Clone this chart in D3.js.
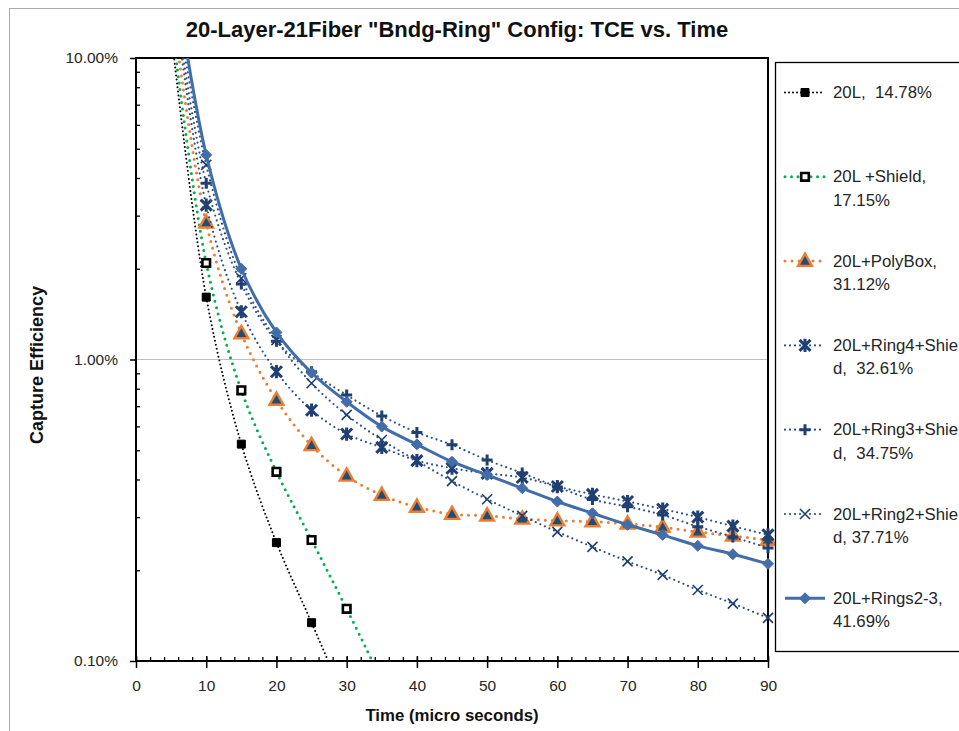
<!DOCTYPE html>
<html>
<head>
<meta charset="utf-8">
<script src="https://cdn.jsdelivr.net/npm/d3@7"></script>
<style>
  body { margin: 0; background: #fff; }
  svg { display: block; font-family: "Liberation Sans", Arial, sans-serif; }
  text { white-space: pre; }
</style>
</head>
<body>
<svg id="chart" width="959" height="731"></svg>
<script>
// time points (micro seconds)
const times = [5, 10, 15, 20, 25, 30, 35, 40, 45, 50, 55, 60, 65, 70, 75, 80, 85, 90];

// capture efficiency in percent
const tce20L = [12.2, 1.61, 0.524, 0.247, 0.134, 0.072];
const tceShield = [13.5, 2.09, 0.79, 0.424, 0.252, 0.149, 0.086];
const tcePolyBox = [15.6, 2.84, 1.22, 0.734, 0.519, 0.411, 0.355, 0.324, 0.307, 0.303, 0.296, 0.292, 0.290, 0.285, 0.278, 0.268, 0.260, 0.252];
const tceRing4 = [18.8, 3.25, 1.44, 0.911, 0.679, 0.566, 0.511, 0.462, 0.436, 0.419, 0.406, 0.379, 0.357, 0.338, 0.319, 0.300, 0.280, 0.262];
const tceRing3 = [18.9, 3.84, 1.78, 1.15, 0.91, 0.762, 0.650, 0.573, 0.521, 0.464, 0.420, 0.378, 0.343, 0.325, 0.305, 0.279, 0.258, 0.237];
const tceRing2 = [19.0, 4.42, 1.86, 1.16, 0.834, 0.655, 0.541, 0.461, 0.395, 0.344, 0.303, 0.268, 0.239, 0.214, 0.193, 0.172, 0.155, 0.139];
const tceRings23 = [22.3, 4.77, 2.00, 1.23, 0.904, 0.724, 0.599, 0.523, 0.458, 0.414, 0.374, 0.338, 0.309, 0.283, 0.262, 0.241, 0.226, 0.210];

// legend text as it shows in the picture (long names wrap, right part runs off the frame)
const legendLabels = [
  ['20L,  14.78%'],
  ['20L +Shield,', '17.15%'],
  ['20L+PolyBox,', '31.12%'],
  ['20L+Ring4+Shie', 'd,  32.61%'],
  ['20L+Ring3+Shie', 'd,  34.75%'],
  ['20L+Ring2+Shie', 'd, 37.71%'],
  ['20L+Rings2-3,', '41.69%']
];

const xTicks = [0, 10, 20, 30, 40, 50, 60, 70, 80, 90];
const yTicks = [0.1, 1, 10];

const title = '20-Layer-21Fiber "Bndg-Ring" Config: TCE vs. Time';
const xTitle = 'Time (micro seconds)';
const yTitle = 'Capture Efficiency';

// looks of each series, same order as the data
const seriesValues = [tce20L, tceShield, tcePolyBox, tceRing4, tceRing3, tceRing2, tceRings23];
const styles = [
  { line: '#000', width: 2, dash: '0 4', marker: 'square', fill: '#000', stroke: '#000', msw: 1, r: 4 },
  { line: '#00B050', width: 3, dash: '0 6.5', marker: 'square', fill: '#fff', stroke: '#000', msw: 2.6, r: 3.8 },
  { line: '#ED7D31', width: 3, dash: '0 7', marker: 'triangle', fill: '#1F4E79', stroke: '#ED7D31', msw: 2.4, r: 6.3 },
  { line: '#2A4F86', width: 2.2, dash: '0 5', marker: 'asterisk', fill: 'none', stroke: '#203F72', msw: 3, r: 5.5 },
  { line: '#2A4F86', width: 2.2, dash: '0 5', marker: 'plus', fill: 'none', stroke: '#203F72', msw: 3, r: 5.5 },
  { line: '#2A4F86', width: 2.2, dash: '0 5', marker: 'cross', fill: 'none', stroke: '#203F72', msw: 1.6, r: 5 },
  { line: '#416DA9', width: 3, dash: null, marker: 'diamond', fill: '#416DA9', stroke: '#416DA9', msw: 1, r: 5.5 }
];

function markerPath(type, r) {
  if (type === 'square') return `M${-r},${-r}H${r}V${r}H${-r}Z`;
  if (type === 'triangle') return `M0,${-r * 1.2}L${r * 1.1},${r * 0.75}H${-r * 1.1}Z`;
  if (type === 'diamond') return `M0,${-r}L${r},0L0,${r}L${-r},0Z`;
  if (type === 'plus') return `M${-r},0H${r}M0,${-r}V${r}`;
  if (type === 'cross') return `M${-r},${-r}L${r},${r}M${-r},${r}L${r},${-r}`;
  // asterisk: cross plus vertical bar
  return `M${-r},${-r}L${r},${r}M${-r},${r}L${r},${-r}M0,${-r * 1.2}V${r * 1.2}`;
}

const svg = d3.select('#chart');

const x = d3.scaleLinear().domain([0, 90]).range([136, 768]);
const y = d3.scaleLog().domain([0.1, 10]).range([661, 58]);

// outer chart frame
svg.append('rect')
  .attr('x', 9.5).attr('y', 8.5)
  .attr('width', 1000).attr('height', 1000)
  .attr('fill', 'none')
  .attr('stroke', '#ABABAB');

// title
svg.append('text')
  .attr('x', 457).attr('y', 37)
  .attr('text-anchor', 'middle')
  .attr('font-size', 22)
  .attr('font-weight', 'bold')
  .attr('fill', '#111')
  .text(title);

// gridline at 1%
svg.append('g')
  .selectAll('line')
  .data(yTicks)
  .enter()
  .append('line')
  .attr('x1', x(0)).attr('x2', x(90))
  .attr('y1', d => y(d)).attr('y2', d => y(d))
  .attr('stroke', '#BFBFBF')
  .attr('stroke-width', 1);

// minor ticks, pointing into the plot
let yMinor = [];
[0.1, 1].forEach(function (dec) {
  for (let k = 2; k <= 9; k++) yMinor.push(dec * k);
});

svg.append('g')
  .attr('transform', `translate(${x(0)},0)`)
  .call(d3.axisLeft(y).tickValues(yMinor).tickSize(-4).tickFormat(''))
  .call(g => g.select('.domain').remove())
  .call(g => g.selectAll('line').attr('stroke', '#000').attr('stroke-width', 1.3));

svg.append('g')
  .attr('transform', `translate(0,${y(0.1)})`)
  .call(d3.axisBottom(x).tickValues(d3.range(0, 91, 2)).tickSize(-4).tickFormat(''))
  .call(g => g.select('.domain').remove())
  .call(g => g.selectAll('line').attr('stroke', '#000').attr('stroke-width', 1.3));

// major ticks and labels
let yAxis = svg.append('g')
  .attr('transform', `translate(${x(0)},0)`)
  .call(d3.axisLeft(y).tickValues(yTicks).tickSize(6).tickPadding(12)
    .tickFormat(d => d.toFixed(2) + '%'));

let xAxis = svg.append('g')
  .attr('transform', `translate(0,${y(0.1)})`)
  .call(d3.axisBottom(x).tickValues(xTicks).tickSizeInner(7).tickSizeOuter(0).tickPadding(12));

svg.append('g')
  .attr('transform', `translate(0,${y(0.1)})`)
  .call(d3.axisBottom(x).tickValues(xTicks).tickSize(-5).tickFormat(''))
  .call(g => g.select('.domain').remove())
  .call(g => g.selectAll('line').attr('stroke', '#000').attr('stroke-width', 1.5));

[yAxis, xAxis].forEach(function (g) {
  g.select('.domain').remove();
  g.selectAll('line').attr('stroke', '#000').attr('stroke-width', 1.5);
  g.selectAll('text')
    .attr('font-family', '"Liberation Sans", Arial, sans-serif')
    .attr('font-size', 15.5)
    .attr('fill', '#262626');
});

// plot area frame
svg.append('rect')
  .attr('x', x(0)).attr('y', y(10))
  .attr('width', x(90) - x(0))
  .attr('height', y(0.1) - y(10))
  .attr('fill', 'none')
  .attr('stroke', '#000')
  .attr('stroke-width', 2);

// axis titles
svg.append('text')
  .attr('transform', 'translate(43,365) rotate(-90)')
  .attr('text-anchor', 'middle')
  .attr('font-size', 18)
  .attr('font-weight', 'bold')
  .attr('fill', '#111')
  .text(yTitle);

svg.append('text')
  .attr('x', 452).attr('y', 721)
  .attr('text-anchor', 'middle')
  .attr('font-size', 16.8)
  .attr('font-weight', 'bold')
  .attr('fill', '#111')
  .text(xTitle);

// series
svg.append('clipPath')
  .attr('id', 'plot-clip')
  .append('rect')
  .attr('x', x(0)).attr('y', y(10))
  .attr('width', x(90) - x(0))
  .attr('height', y(0.1) - y(10));

let line = d3.line()
  .x(d => x(d.t))
  .y(d => y(d.v))
  .curve(d3.curveCatmullRom.alpha(0.5));

let plot = svg.append('g');

seriesValues.forEach(function (vals, i) {
  let st = styles[i];
  let pts = vals.map((v, j) => ({ t: times[j], v: v }));

  plot.append('path')
    .datum(pts)
    .attr('clip-path', 'url(#plot-clip)')
    .attr('d', line)
    .attr('fill', 'none')
    .attr('stroke', st.line)
    .attr('stroke-width', st.width)
    .attr('stroke-linecap', st.dash ? 'round' : 'butt')
    .attr('stroke-dasharray', st.dash);

  plot.append('g')
    .selectAll('path')
    .data(pts.filter(d => d.v >= 0.1 && d.v <= 10))
    .enter()
    .append('path')
    .attr('transform', d => `translate(${x(d.t)},${y(d.v)})`)
    .attr('d', markerPath(st.marker, st.r))
    .attr('fill', st.fill)
    .attr('stroke', st.stroke)
    .attr('stroke-width', st.msw)
    .attr('stroke-linejoin', 'miter');
});

// legend
let legend = svg.append('g');

legend.append('rect')
  .attr('x', 775.5).attr('y', 62.5)
  .attr('width', 240).attr('height', 589)
  .attr('fill', '#fff')
  .attr('stroke', '#000')
  .attr('stroke-width', 1.3);

let rowY = d3.scaleLinear().domain([0, 6]).range([92.5, 598.3]);

legendLabels.forEach(function (lines, i) {
  let st = styles[i];
  let ly = rowY(i);
  let row = legend.append('g');

  row.append('line')
    .attr('x1', 785).attr('x2', 825)
    .attr('y1', ly).attr('y2', ly)
    .attr('stroke', st.line)
    .attr('stroke-width', st.width)
    .attr('stroke-linecap', st.dash ? 'round' : 'butt')
    .attr('stroke-dasharray', st.dash);

  row.append('path')
    .attr('transform', `translate(805,${ly})`)
    .attr('d', markerPath(st.marker, st.r))
    .attr('fill', st.fill)
    .attr('stroke', st.stroke)
    .attr('stroke-width', st.msw);

  row.selectAll('text')
    .data(lines)
    .enter()
    .append('text')
    .attr('x', 833)
    .attr('y', (d, k) => ly + k * 23.5)
    .attr('dominant-baseline', 'central')
    .attr('font-size', 16.8)
    .attr('fill', '#262626')
    .text(d => d);
});
</script>
</body>
</html>
